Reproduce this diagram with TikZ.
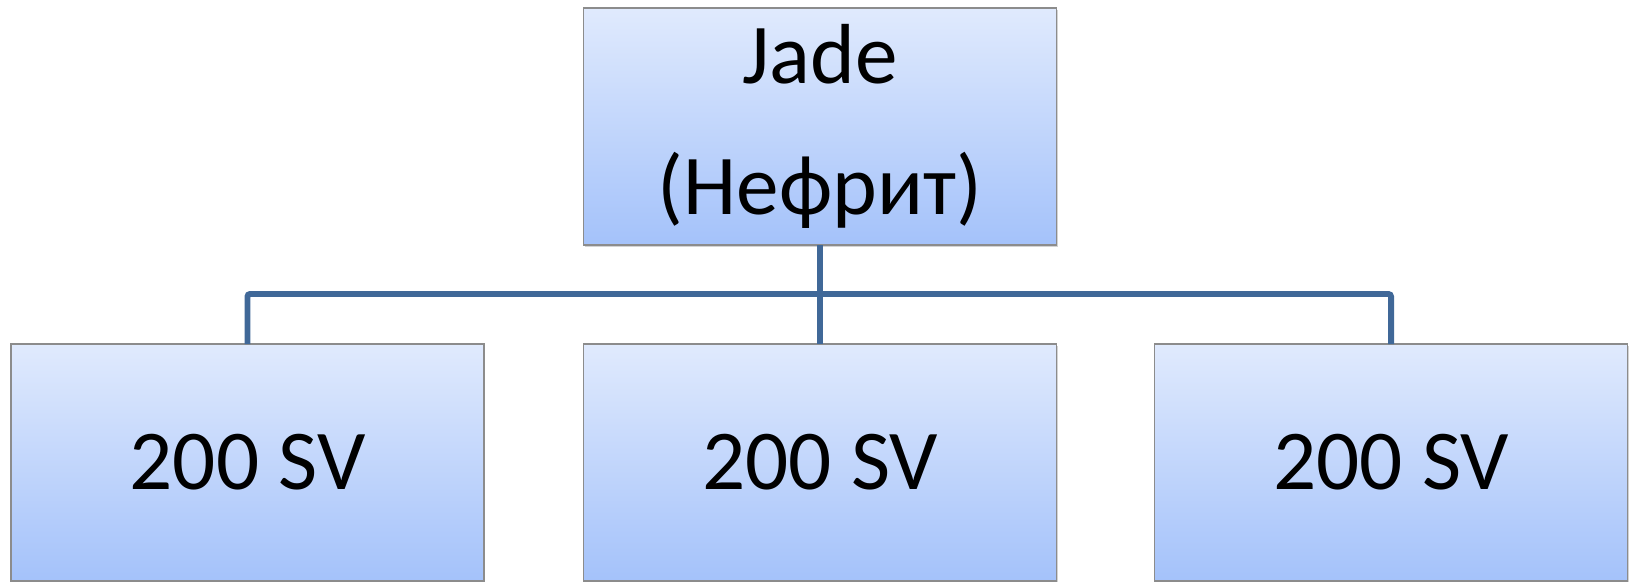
\documentclass[tikz,border=0pt]{standalone}
\usepackage{fontspec}
\setmainfont{Carlito}
\usetikzlibrary{shadows}
\definecolor{boxtop}{RGB}{224,234,253}
\definecolor{boxbottom}{RGB}{164,194,250}
\definecolor{boxline}{RGB}{140,140,140}
\definecolor{linkblue}{RGB}{64,104,152}
\tikzset{basic/.style={draw=boxline,line width=0.6pt,top color=boxtop,bottom color=boxbottom,
                       drop shadow={shadow xshift=0.6pt,shadow yshift=-1.2pt,opacity=.35},
                       inner sep=0pt,outer sep=0pt,align=center,
                       minimum width=9.46cm,minimum height=4.74cm}}
\tikzset{topbox/.style={basic,font=\fontsize{48.5}{75}\selectfont}}
\tikzset{unitbox/.style={basic,font=\fontsize{48.5}{56}\selectfont}}
\tikzset{link/.style={draw=linkblue,line width=3.4pt,rounded corners=1.5pt}}

\begin{document}
\begin{tikzpicture}
        \useasboundingbox (0,0) rectangle (32.58,11.62);
        \node[topbox] (jade) at (16.4,9.09) {Jade\\(Нефрит)};
        \foreach \x [count=\xi ] in {4.95,16.4,27.82}{%
              \node[unitbox] (u\xi) at (\x,2.37) {200 SV};
            }
        \coordinate (bus) at (16.4,5.74);
        % Connectors
        \draw[link] (jade.south) -- (u2.north);
        \draw[link] (u1.north) |- (bus) -| (u3.north);
    \end{tikzpicture}
\end{document}
